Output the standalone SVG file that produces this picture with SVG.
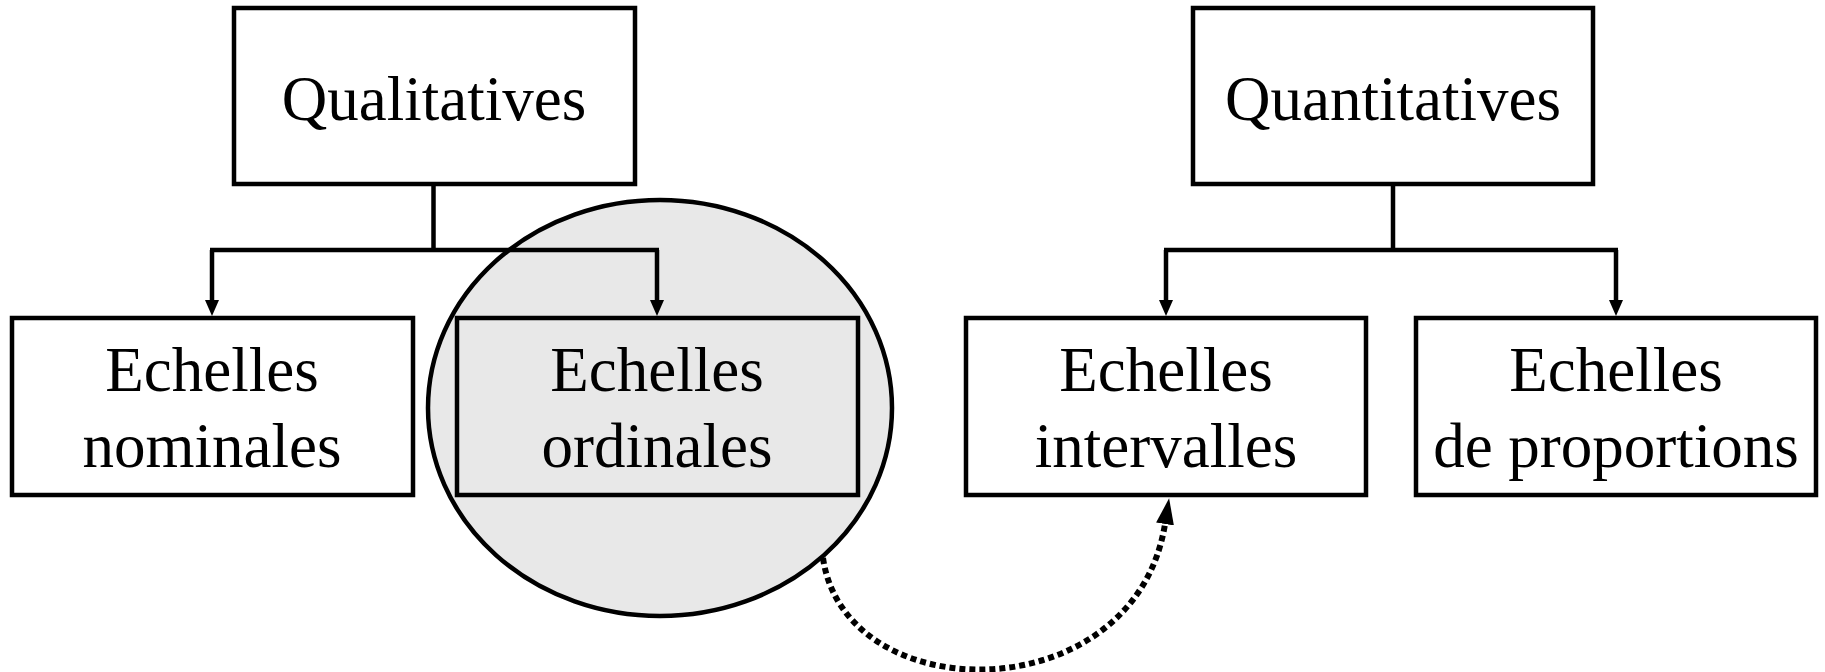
<svg xmlns="http://www.w3.org/2000/svg" width="1825" height="672" viewBox="0 0 1825 672">
<style>
.box{fill:#fff;stroke:#000;stroke-width:4.5}
.lbl{font-family:"Liberation Serif","Times New Roman",serif;font-size:63px;fill:#000;text-anchor:middle}
.conn{fill:none;stroke:#000;stroke-width:4.5}
.dot{fill:none;stroke:#000;stroke-width:6;stroke-dasharray:6 4}
</style>
<defs>
<marker id="arr" markerUnits="userSpaceOnUse" markerWidth="16" markerHeight="14" refX="0" refY="7" orient="auto">
<path d="M0,0 L16,7 L0,14 z" fill="#000"/>
</marker>
<marker id="arrBig" markerUnits="userSpaceOnUse" markerWidth="26" markerHeight="18" refX="0" refY="9" orient="auto">
<path d="M0,0 L26,9 L0,18 z" fill="#000"/>
</marker>
</defs>
<g id="highlight">
<ellipse cx="660" cy="408" rx="232" ry="208" fill="#e8e8e8" stroke="#000" stroke-width="4.5"/>
</g>
<g id="connectors">
<path class="conn" d="M433.5 184 V250 M210 250 H659"/>
<path class="conn" d="M212 250 V300" marker-end="url(#arr)"/>
<path class="conn" d="M657 250 V300" marker-end="url(#arr)"/>
<path class="conn" d="M1393 184 V250 M1164 250 H1618"/>
<path class="conn" d="M1166 250 V300" marker-end="url(#arr)"/>
<path class="conn" d="M1616 250 V300" marker-end="url(#arr)"/>
<path class="dot" d="M823 558 C845 712 1135 712 1165 524" marker-end="url(#arrBig)"/>
</g>
<g id="qualitatives">
<rect class="box" x="234" y="8" width="401" height="176"/>
<text class="lbl" x="434" y="120">Qualitatives</text>
</g>
<g id="quantitatives">
<rect class="box" x="1193" y="8" width="400" height="176"/>
<text class="lbl" x="1393" y="120">Quantitatives</text>
</g>
<g id="nominales">
<rect class="box" x="12" y="318" width="401" height="177"/>
<text class="lbl" x="212" y="391">Echelles</text>
<text class="lbl" x="212" y="467">nominales</text>
</g>
<g id="ordinales">
<rect class="box" x="457" y="318" width="401" height="177" style="fill:none"/>
<text class="lbl" x="657" y="391">Echelles</text>
<text class="lbl" x="657" y="467">ordinales</text>
</g>
<g id="intervalles">
<rect class="box" x="966" y="318" width="400" height="177"/>
<text class="lbl" x="1166" y="391">Echelles</text>
<text class="lbl" x="1166" y="467">intervalles</text>
</g>
<g id="proportions">
<rect class="box" x="1416" y="318" width="400" height="177"/>
<text class="lbl" x="1616" y="391">Echelles</text>
<text class="lbl" x="1616" y="467">de proportions</text>
</g>
</svg>
